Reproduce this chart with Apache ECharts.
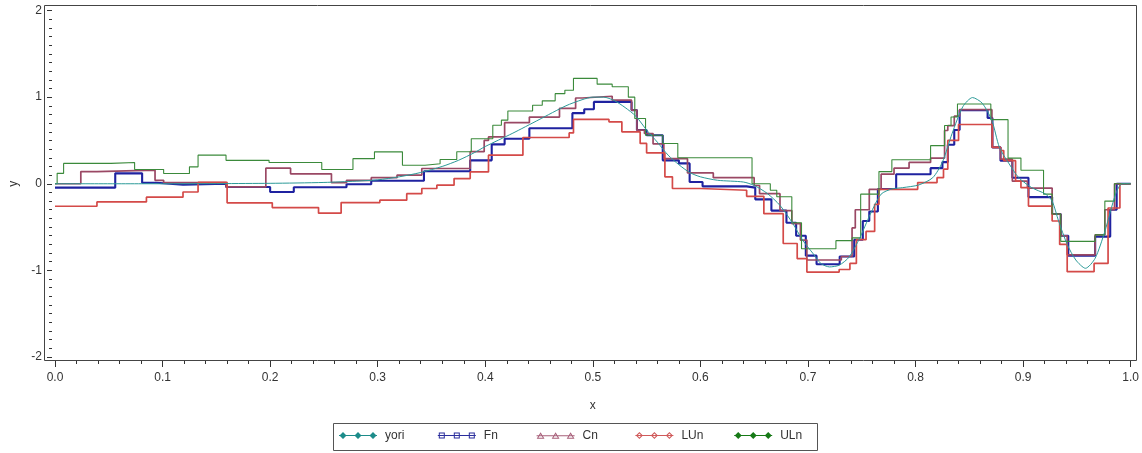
<!DOCTYPE html>
<html>
<head>
<meta charset="utf-8">
<script src="https://cdn.jsdelivr.net/npm/echarts@6/dist/echarts.min.js"></script>
<style>
  html, body { margin: 0; padding: 0; background: #ffffff; }
  #chart { width: 1142px; height: 453px; }
</style>
</head>
<body>
<div id="chart"></div>
<script>
// Series names, in legend order
const seriesNames = ['yori', 'Fn', 'Cn', 'LUn', 'ULn'];

// Original smooth signal, sampled as [x, y]
const yori = [
  [0, 0], [0.1, 0], [0.2, 0.005], [0.25, 0.015], [0.28, 0.03], [0.30, 0.045], [0.32, 0.08],
  [0.34, 0.13], [0.36, 0.2], [0.375, 0.27], [0.39, 0.36], [0.40, 0.43], [0.425, 0.58],
  [0.45, 0.74], [0.475, 0.9], [0.49, 0.97], [0.50, 1.0], [0.51, 1.0], [0.52, 0.96],
  [0.53, 0.88], [0.54, 0.78], [0.55, 0.62], [0.56, 0.48], [0.57, 0.33], [0.58, 0.22],
  [0.59, 0.13], [0.60, 0.08], [0.616, 0.04], [0.64, 0.02], [0.65, -0.02], [0.662, -0.11],
  [0.674, -0.25], [0.686, -0.46], [0.695, -0.65], [0.705, -0.81], [0.712, -0.92],
  [0.72, -0.96], [0.729, -0.94], [0.738, -0.85], [0.748, -0.63], [0.758, -0.35],
  [0.768, -0.12], [0.778, -0.06], [0.788, -0.045], [0.803, -0.014], [0.816, 0.07],
  [0.825, 0.25], [0.834, 0.58], [0.844, 0.89], [0.853, 0.995], [0.862, 0.93], [0.871, 0.73],
  [0.878, 0.42], [0.887, 0.23], [0.896, 0.07], [0.908, -0.045], [0.921, -0.12], [0.927, -0.2],
  [0.933, -0.43], [0.941, -0.70], [0.949, -0.88], [0.958, -0.976], [0.967, -0.86],
  [0.976, -0.55], [0.986, -0.12], [0.992, 0], [1.0, 0]
];

// Step estimates: each [x, y] starts a level that holds until the next x
const Fn = [
  [0, -0.045], [0.056, 0.12], [0.081, 0.012], [0.094, -0.01], [0.119, 0.0], [0.159, -0.037],
  [0.2, -0.095], [0.222, -0.04], [0.271, -0.005], [0.294, 0.035], [0.343, 0.145], [0.386, 0.27],
  [0.406, 0.455], [0.418, 0.52], [0.441, 0.64], [0.481, 0.815], [0.492, 0.86], [0.501, 0.945],
  [0.536, 0.85], [0.541, 0.62], [0.550, 0.56], [0.565, 0.27], [0.580, 0.235], [0.590, 0.02],
  [0.602, -0.03], [0.643, -0.045], [0.651, -0.18], [0.666, -0.31], [0.680, -0.45], [0.689, -0.6],
  [0.698, -0.83], [0.708, -0.93], [0.7295, -0.84], [0.743, -0.646], [0.751, -0.43], [0.757, -0.32],
  [0.765, -0.06], [0.782, 0.11], [0.814, 0.18], [0.825, 0.25], [0.830, 0.45], [0.836, 0.62],
  [0.841, 0.85], [0.867, 0.76], [0.8715, 0.42], [0.879, 0.266], [0.890, 0.07], [0.905, -0.154],
  [0.927, -0.35], [0.935, -0.6], [0.942, -0.83], [0.967, -0.61], [0.981, -0.3], [0.987, 0.0],
  [1.0, 0.0]
];

const Cn = [
  [0, 0.0], [0.024, 0.14], [0.039, 0.158], [0.093, 0.04], [0.101, 0.014], [0.159, -0.037],
  [0.196, 0.18], [0.219, 0.115], [0.257, 0.012], [0.271, 0.04], [0.294, 0.07], [0.318, 0.1],
  [0.341, 0.176], [0.386, 0.37], [0.399, 0.5], [0.403, 0.54], [0.418, 0.705], [0.441, 0.77],
  [0.469, 0.87], [0.484, 0.99], [0.490, 1.01], [0.518, 0.965], [0.536, 0.85], [0.541, 0.62],
  [0.548, 0.58], [0.556, 0.46], [0.566, 0.29], [0.588, 0.125], [0.612, 0.07], [0.650, -0.02],
  [0.655, -0.115], [0.674, -0.31], [0.685, -0.46], [0.693, -0.65], [0.699, -0.88], [0.731, -0.84],
  [0.741, -0.51], [0.744, -0.30], [0.757, -0.064], [0.768, 0.11], [0.780, 0.18], [0.794, 0.246],
  [0.814, 0.296], [0.827, 0.615], [0.830, 0.67], [0.836, 0.78], [0.841, 0.855], [0.871, 0.42],
  [0.879, 0.284], [0.890, 0.03], [0.904, -0.05], [0.927, -0.35], [0.935, -0.6], [0.941, -0.82],
  [0.967, -0.59], [0.976, -0.3], [0.985, 0.0], [1.0, 0.0]
];

const LUn = [
  [0, -0.26], [0.039, -0.21], [0.085, -0.155], [0.119, -0.095], [0.133, 0.015], [0.160, -0.22],
  [0.202, -0.275], [0.245, -0.34], [0.266, -0.217], [0.302, -0.19], [0.327, -0.114],
  [0.341, -0.055], [0.355, -0.017], [0.371, 0.06], [0.386, 0.137], [0.403, 0.33], [0.435, 0.534],
  [0.478, 0.587], [0.482, 0.742], [0.515, 0.715], [0.527, 0.6], [0.544, 0.465], [0.550, 0.356],
  [0.567, 0.08], [0.574, -0.055], [0.600, -0.075], [0.643, -0.145], [0.659, -0.345],
  [0.677, -0.69], [0.690, -0.865], [0.699, -1.02], [0.729, -0.99], [0.739, -0.92],
  [0.745, -0.646], [0.754, -0.55], [0.762, -0.237], [0.766, -0.064], [0.802, 0.014],
  [0.820, 0.07], [0.826, 0.168], [0.830, 0.5], [0.840, 0.684], [0.8715, 0.42], [0.879, 0.383],
  [0.882, 0.266], [0.893, 0.03], [0.898, -0.045], [0.905, -0.258], [0.927, -0.43], [0.934, -0.7],
  [0.941, -1.015], [0.966, -0.92], [0.979, -0.28], [0.990, 0.0], [1.0, 0.0]
];

const ULn = [
  [0, 0.0], [0.002, 0.12], [0.008, 0.235], [0.052, 0.245], [0.074, 0.164], [0.101, 0.118],
  [0.125, 0.195], [0.133, 0.33], [0.159, 0.27], [0.199, 0.245], [0.248, 0.164], [0.277, 0.29],
  [0.297, 0.368], [0.323, 0.214], [0.344, 0.23], [0.358, 0.28], [0.3735, 0.37], [0.387, 0.52],
  [0.407, 0.676], [0.415, 0.734], [0.421, 0.84], [0.444, 0.907], [0.453, 0.957], [0.465, 1.04],
  [0.474, 1.08], [0.482, 1.216], [0.504, 1.15], [0.518, 1.12], [0.533, 1.0], [0.539, 0.754],
  [0.549, 0.56], [0.565, 0.465], [0.579, 0.30], [0.648, 0.0], [0.665, -0.075], [0.671, -0.15],
  [0.685, -0.45], [0.694, -0.75], [0.726, -0.657], [0.741, -0.625], [0.749, -0.12], [0.766, 0.14],
  [0.778, 0.277], [0.814, 0.44], [0.827, 0.673], [0.833, 0.77], [0.839, 0.92], [0.870, 0.74],
  [0.886, 0.296], [0.898, 0.156], [0.919, -0.12], [0.927, -0.35], [0.935, -0.665], [0.967, -0.59],
  [0.976, -0.2], [0.985, 0.0], [1.0, 0.0]
];

// Axis settings
const xRange = [0, 1];
const yRange = [-2, 2];

const FONT = "'Liberation Sans', Arial, sans-serif";
const TEXT = '#333333';

const colors = {
  yori: '#2b9a98',
  Fn: '#1f22a0',
  Cn: '#9a4864',
  LUn: '#d44a48',
  ULn: '#3b8a3b'
};
const legendColors = {
  yori: '#1d8c8a',
  Fn: '#2a2d9c',
  Cn: '#a8607a',
  LUn: '#d05a5a',
  ULn: '#177a17'
};

// Legend glyph: a short line with three markers (filled or hollow)
function markerPath(kind, c) {
  if (kind === 'diamond') {
    return `M${c},0.5L${c + 3.5},4L${c},7.5L${c - 3.5},4Z`;
  }
  if (kind === 'hollowDiamond') {
    return `M${c},0.5L${c + 3.5},4L${c},7.5L${c - 3.5},4Z` +
           `M${c},2L${c - 2},4L${c},6L${c + 2},4Z`;
  }
  if (kind === 'hollowSquare') {
    return `M${c - 3},1L${c + 3},1L${c + 3},7L${c - 3},7Z` +
           `M${c - 2},2L${c - 2},6L${c + 2},6L${c + 2},2Z`;
  }
  // hollow triangle
  return `M${c},0.5L${c + 3.9},7.2L${c - 3.9},7.2Z` +
         `M${c},2.7L${c - 2.2},6.2L${c + 2.2},6.2Z`;
}
function legendIcon(kind) {
  let p = 'M0,3.5L38,3.5L38,4.5L0,4.5Z';
  [4, 19, 34].forEach(c => { p += markerPath(kind, c); });
  return 'path://' + p;
}
const legendKinds = {
  yori: 'diamond', Fn: 'hollowSquare', Cn: 'triangle', LUn: 'hollowDiamond', ULn: 'diamond'
};

// Legend layout: one entry per slot inside a framed box
const legendBox = { left: 333, top: 423, width: 484, height: 27 };
const legendFirst = 339;
const legendPitch = 98.8;

const lineWidths = { yori: 1, Fn: 2.1, Cn: 1.7, LUn: 1.7, ULn: 1.1 };
const seriesData = { yori, Fn, Cn, LUn, ULn };

const chart = echarts.init(document.getElementById('chart'), null, { renderer: 'canvas' });

chart.setOption({
  animation: false,
  backgroundColor: '#ffffff',
  textStyle: { fontFamily: FONT },
  grid: { left: 47.3, right: 7.7, top: 10.5, bottom: 96, containLabel: false },
  xAxis: {
    type: 'value',
    min: xRange[0], max: xRange[1], interval: 0.1,
    offset: 4,
    name: 'x', nameLocation: 'middle', nameGap: 39,
    nameTextStyle: { color: TEXT, fontSize: 12, fontFamily: FONT },
    axisLine: { show: false, onZero: false },
    axisTick: { show: true, length: 6, lineStyle: { color: TEXT, width: 1 } },
    minorTick: { show: true, splitNumber: 5, length: 3, lineStyle: { color: TEXT, width: 1 } },
    axisLabel: { color: TEXT, fontSize: 12, fontFamily: FONT, margin: 11,
                 formatter: v => v.toFixed(1) },
    splitLine: { show: false }
  },
  yAxis: {
    type: 'value',
    min: yRange[0], max: yRange[1], interval: 1,
    offset: 3,
    name: 'y', nameLocation: 'middle', nameGap: 32, nameRotate: 90,
    nameTextStyle: { color: TEXT, fontSize: 12, fontFamily: FONT },
    axisLine: { show: false, onZero: false },
    axisTick: { show: true, length: 5, lineStyle: { color: TEXT, width: 1 } },
    minorTick: { show: true, splitNumber: 10, length: 3, lineStyle: { color: TEXT, width: 1 } },
    axisLabel: { color: TEXT, fontSize: 12, fontFamily: FONT, margin: 10 },
    splitLine: { show: false }
  },
  legend: seriesNames.map((n, i) => ({
    left: legendFirst + i * legendPitch,
    top: legendBox.top + 6.5,
    orient: 'horizontal',
    itemWidth: 38, itemHeight: 8,
    padding: 0,
    selectedMode: false,
    itemStyle: { borderWidth: 0 },
    textStyle: { color: TEXT, fontSize: 12, fontFamily: FONT, padding: [0, 0, 0, 3] },
    data: [{
      name: n,
      icon: legendIcon(legendKinds[n]),
      itemStyle: { color: legendColors[n], borderWidth: 0 }
    }]
  })),
  graphic: [{
    type: 'rect',
    silent: true,
    z: 100,
    shape: { x: 44.5, y: 5.5, width: 1092, height: 355 },
    style: { fill: 'none', stroke: '#444444', lineWidth: 1 }
  }, {
    type: 'rect',
    silent: true,
    z: 100,
    shape: { x: legendBox.left + 0.5, y: legendBox.top + 0.5,
             width: legendBox.width, height: legendBox.height },
    style: { fill: 'none', stroke: '#555555', lineWidth: 1 }
  }],
  series: seriesNames.map(n => ({
    name: n,
    type: 'line',
    data: seriesData[n],
    step: n === 'yori' ? false : 'end',
    smooth: n === 'yori' ? 0.25 : false,
    showSymbol: false,
    symbol: 'none',
    color: colors[n],
    lineStyle: { color: colors[n], width: lineWidths[n] },
    emphasis: { disabled: true },
    z: n === 'yori' ? 6 : 2
  }))
});
</script>
</body>
</html>
